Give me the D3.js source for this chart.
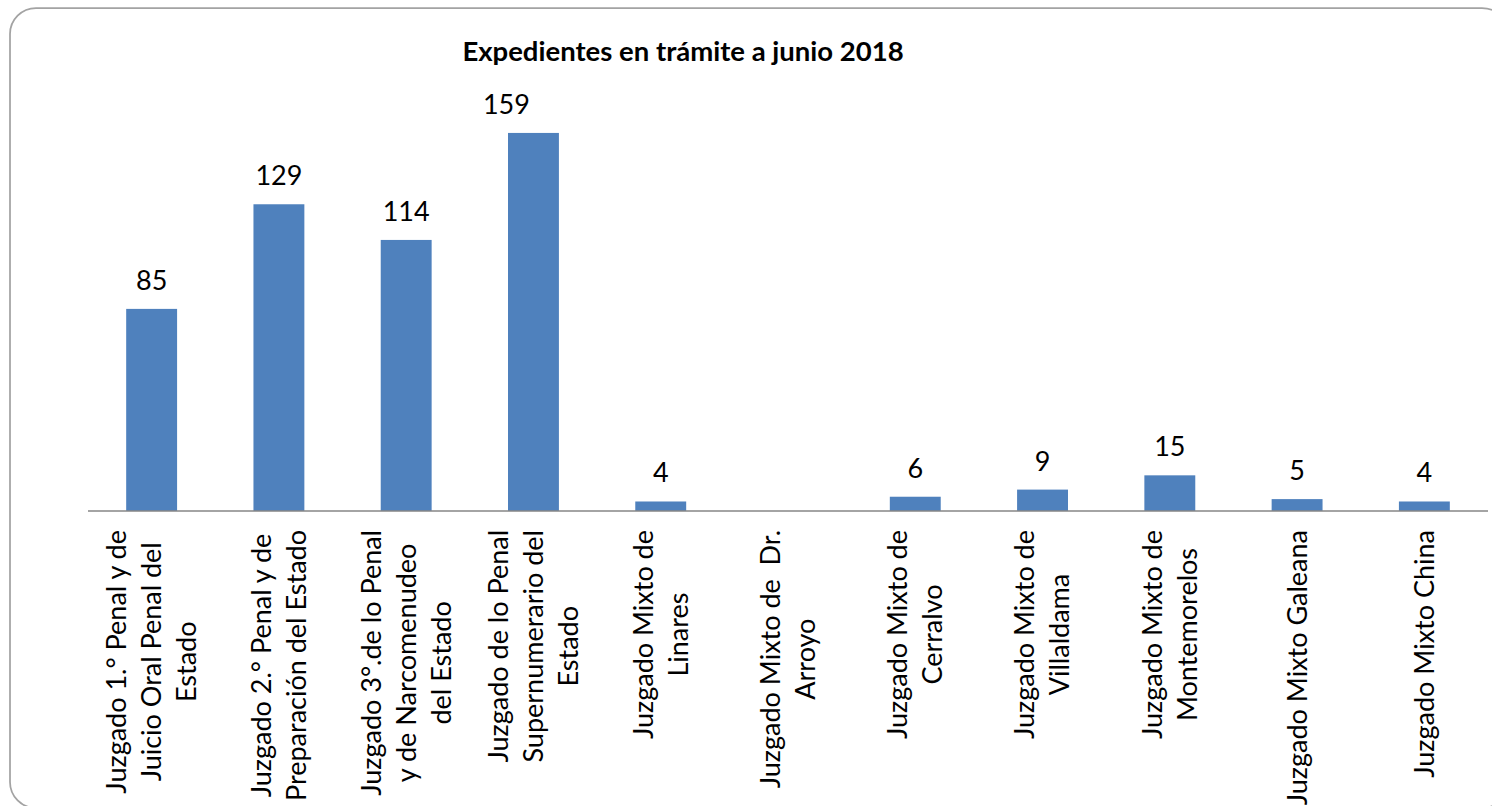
<!DOCTYPE html>
<html>
  <head>
    <title>Expedientes en trámite a junio 2018</title>
    <style>
      body {
        margin: 0;
        background: #fff;
        font-family: 'Lato', 'Open Sans', sans-serif;
      }
      .bar {
          fill: #4F81BD;
      }
      .value {
          font-size: 27px;
          fill: #000;
          text-anchor: middle;
      }
      .cat {
          font-size: 27px;
          fill: #000;
          white-space: pre;
      }
    </style>
  </head>
  <body>
    <div class='chart'></div>

    <script src="https://d3js.org/d3.v7.min.js"></script>
    <script type="text/javascript">
      // data
      var juzgados = [
        ['Juzgado 1.° Penal y de', 'Juicio Oral Penal del', 'Estado'],
        ['Juzgado 2.° Penal y de', 'Preparación del Estado'],
        ['Juzgado 3°.de lo Penal', 'y de Narcomenudeo', 'del Estado'],
        ['Juzgado de lo Penal', 'Supernumerario del', 'Estado'],
        ['Juzgado Mixto de', 'Linares'],
        ['Juzgado Mixto de  Dr.', 'Arroyo'],
        ['Juzgado Mixto de', 'Cerralvo'],
        ['Juzgado Mixto de', 'Villaldama'],
        ['Juzgado Mixto de', 'Montemorelos'],
        ['Juzgado Mixto Galeana'],
        ['Juzgado Mixto China']
      ];
      var expedientes = [85, 129, 114, 159, 4, null, 6, 9, 15, 5, 4];
      var titulo = 'Expedientes en trámite a junio 2018';

      var W = 1492, H = 806;
      var margin = {top: 83, left: 88, right: 4, bottom: 295};

      var svg = d3.select('.chart')
        .append('svg')
        .attr('width', W)
        .attr('height', H);

      // rounded frame round the whole chart
      svg.append('rect')
        .attr('x', 10)
        .attr('y', 8)
        .attr('width', 1498)
        .attr('height', 800)
        .attr('rx', 26)
        .attr('fill', '#fff')
        .attr('stroke', '#a3a3a3')
        .attr('stroke-width', 1.75);

      svg.append('text')
        .attr('x', 683)
        .attr('y', 61)
        .attr('text-anchor', 'middle')
        .style('font-size', '27.5px')
        .style('font-weight', 'bold')
        .text(titulo);

      var idx = d3.range(juzgados.length);
      var x = d3.scaleBand()
        .domain(idx)
        .range([margin.left, W - margin.right])
        .paddingInner(0.6)
        .paddingOuter(0.3);
      var y = d3.scaleLinear()
        .domain([0, 180])
        .range([H - margin.bottom, margin.top]);

      var data = idx.map(function(i) { return {i: i, v: expedientes[i]}; });
      var conValor = data.filter(function(d) { return d.v != null; });
      var maxV = d3.max(expedientes);

      svg.selectAll('.bar')
        .data(conValor)
        .enter()
        .append('rect')
        .attr('class', 'bar')
        .attr('x', function(d) { return x(d.i); })
        .attr('y', function(d) { return y(d.v); })
        .attr('width', x.bandwidth())
        .attr('height', function(d) { return y(0) - y(d.v); });

      // tallest label was nudged left in the original, away from the title
      svg.selectAll('.value')
        .data(conValor)
        .enter()
        .append('text')
        .attr('class', 'value')
        .attr('x', function(d) { return x(d.i) + x.bandwidth() / 2 - (d.v == maxV ? 27 : 0); })
        .attr('y', function(d) { return y(d.v) - 19; })
        .text(function(d) { return d.v; });

      // category axis: only the line, labels are wrapped + rotated by hand
      var xAxis = d3.axisBottom(x).tickSize(0).tickFormat('');
      var gX = svg.append('g')
        .attr('transform', 'translate(0,' + y(0) + ')')
        .call(xAxis);
      gX.select('.domain')
        .attr('d', 'M' + margin.left + ',0H' + (W - margin.right))
        .attr('stroke', '#868686')
        .attr('stroke-width', 1.5);

      var lineH = 35;
      var labels = svg.selectAll('.cat')
        .data(data)
        .enter()
        .append('text')
        .attr('class', 'cat')
        .attr('text-anchor', 'middle');

      labels.each(function(d) {
        var t = d3.select(this);
        var lines = juzgados[d.i];
        lines.forEach(function(s, k) {
          t.append('tspan')
            .attr('x', 0)
            .attr('y', (k - (lines.length - 1) / 2) * lineH)
            .attr('dy', '0.35em')
            .text(s);
        });
        // longest line ends just under the axis
        var longest = d3.max(t.selectAll('tspan').nodes(), function(n) { return n.getComputedTextLength(); });
        var cx = x(d.i) + x.bandwidth() / 2;
        var cy = y(0) + 19 + longest / 2;
        t.attr('transform', 'translate(' + cx + ',' + cy + ') rotate(-90)');
      });
    </script>
  </body>
</html>
